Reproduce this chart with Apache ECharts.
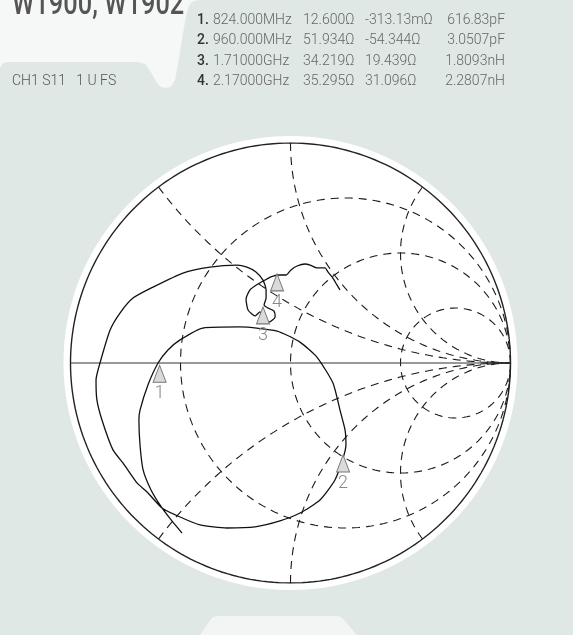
<!DOCTYPE html>
<html>
<head>
<meta charset="utf-8">
<script src="https://cdn.jsdelivr.net/npm/echarts@6/dist/echarts.min.js"></script>
<style>
html, body { margin: 0; padding: 0; background: #dfe8e4; }
#chart { width: 573px; height: 635px; }
</style>
</head>
<body>
<div id="chart"></div>
<script>
// S11 trace as reflection coefficient (re, im), in sweep order
var traceRe = [-0.493, -0.539, -0.584, -0.634, -0.670, -0.684, -0.689, -0.684, -0.648, -0.602,
  -0.557, -0.502, -0.398, -0.230, -0.061, 0.043, 0.120, 0.193, 0.225, 0.248,
  0.252, 0.239, 0.202, 0.134, 0.043, -0.048, -0.161, -0.289, -0.411, -0.502,
  -0.584, -0.652, -0.698, -0.761, -0.807, -0.857, -0.880, -0.884, -0.866, -0.820,
  -0.775, -0.716, -0.625, -0.489, -0.366, -0.243, -0.198, -0.157, -0.125, -0.111,
  -0.111, -0.120, -0.102, -0.075, -0.070, -0.098, -0.125, -0.139, -0.161, -0.193,
  -0.202, -0.184, -0.148, -0.116, -0.089, -0.057, -0.020, 0.002, 0.030, 0.066,
  0.089, 0.120, 0.157, 0.170, 0.189, 0.211, 0.225];
var traceIm = [-0.773, -0.718, -0.659, -0.577, -0.486, -0.373, -0.259, -0.214, -0.100, 0.000,
  0.059, 0.105, 0.159, 0.164, 0.145, 0.095, 0.027, -0.091, -0.214, -0.305,
  -0.373, -0.432, -0.532, -0.623, -0.682, -0.718, -0.745, -0.750, -0.736, -0.700,
  -0.659, -0.586, -0.545, -0.455, -0.395, -0.259, -0.168, -0.077, 0.000, 0.150,
  0.227, 0.295, 0.345, 0.409, 0.436, 0.445, 0.436, 0.414, 0.377, 0.332,
  0.295, 0.264, 0.250, 0.236, 0.209, 0.186, 0.205, 0.232, 0.214, 0.241,
  0.291, 0.332, 0.359, 0.377, 0.391, 0.400, 0.400, 0.423, 0.441, 0.450,
  0.445, 0.432, 0.432, 0.414, 0.391, 0.355, 0.332];

var markerNames = ['1', '2', '3', '4'];
var markerRe = [-0.595, 0.239, -0.125, -0.061];
var markerIm = [-0.010, -0.418, 0.255, 0.405];
var markerFreq = ['824.000MHz', '960.000MHz', '1.71000GHz', '2.17000GHz'];
var markerR = ['12.600Ω', '51.934Ω', '34.219Ω', '35.295Ω'];
var markerX = ['-313.13mΩ', '-54.344Ω', '19.439Ω', '31.096Ω'];
var markerLC = ['616.83pF', '3.0507pF', '1.8093nH', '2.2807nH'];

var resistanceCircles = [1 / 3, 1, 3];
var reactanceArcs = [0.5, 1, 2, -0.5, -1, -2];

// z = r + jx  ->  gamma = (z - 1) / (z + 1)
function gamma(r, x) {
  var d = (r + 1) * (r + 1) + x * x;
  return [(r * r - 1 + x * x) / d, 2 * x / d];
}
function rCircle(r) {
  var c = r / (1 + r), rad = 1 / (1 + r), pts = [];
  for (var i = 0; i <= 240; i++) {
    var a = i / 240 * 2 * Math.PI;
    pts.push([c + rad * Math.cos(a), rad * Math.sin(a)]);
  }
  return pts;
}
function xArc(x) {
  var pts = [];
  for (var i = 0; i < 200; i++) {
    pts.push(gamma(Math.tan(i / 200 * Math.PI / 2), x));
  }
  pts.push([1, 0]);
  return pts;
}

var dashed = { color: '#1a1a1a', width: 1.1, type: [8, 6] };
var series = [];
resistanceCircles.forEach(function (r) {
  series.push({ type: 'line', data: rCircle(r), showSymbol: false, silent: true, lineStyle: dashed });
});
reactanceArcs.forEach(function (x) {
  series.push({ type: 'line', data: xArc(x), showSymbol: false, silent: true, lineStyle: dashed });
});
series.push({ type: 'line', data: rCircle(0), showSymbol: false, silent: true,
  lineStyle: { color: '#222', width: 1.4 } });
series.push({ type: 'line', data: [[-1, 0], [1, 0]], showSymbol: false, silent: true,
  lineStyle: { color: '#333', width: 1 } });
series.push({
  type: 'line', showSymbol: false, silent: true, smooth: 0.2,
  data: traceRe.map(function (v, i) { return [v, traceIm[i]]; }),
  lineStyle: { color: '#111', width: 1.3 }, z: 4
});
series.push({
  type: 'scatter', z: 5, symbol: 'triangle', symbolSize: [13, 17], symbolOffset: [0, '50%'],
  data: markerRe.map(function (v, i) { return { name: markerNames[i], value: [v, markerIm[i]] }; }),
  itemStyle: { color: '#dadada', borderColor: '#777', borderWidth: 1, opacity: 1 },
  label: { show: true, position: 'bottom', distance: 2, formatter: '{b}',
    fontFamily: 'Roboto', fontWeight: 300, fontSize: 18, color: '#888' }
});

var chart = echarts.init(document.getElementById('chart'));
chart.setOption({
  backgroundColor: '#dfe8e4',
  animation: false,
  grid: { left: 70.5, top: 143, width: 440, height: 440 },
  xAxis: { type: 'value', min: -1, max: 1, show: false },
  yAxis: { type: 'value', min: -1, max: 1, show: false },
  series: series
});

var c = chart.convertToPixel({ gridIndex: 0 }, [0, 0]);
var e = chart.convertToPixel({ gridIndex: 0 }, [1, 0]);
var rows = [];
markerNames.forEach(function (n, i) {
  var y = 20.5 + i * 20.3;
  var f = { fontFamily: 'Roboto', fontSize: 14, fontWeight: 300, fill: '#666', verticalAlign: 'middle' };
  var cell = function (x, style) {
    return { type: 'text', x: x, y: y, style: Object.assign({}, f, style) };
  };
  rows.push(cell(197, { text: n + '.', fontWeight: 500, fill: '#333' }));
  rows.push(cell(213, { text: markerFreq[i] }));
  rows.push(cell(303, { text: markerR[i] }));
  rows.push(cell(365, { text: markerX[i] }));
  rows.push(cell(505, { text: markerLC[i], align: 'right' }));
});

chart.setOption({
  graphic: [
    { type: 'polygon', z: -10, shape: { points: [[0, 0], [200, 0], [194, 1], [190, 4], [187, 12], [185, 22], [181, 45],
      [178, 65], [175, 80], [171, 87], [166, 88], [161, 87], [157, 83], [153, 76], [149, 69], [145, 64], [138, 62],
      [8, 62], [3, 63], [0, 68]] }, style: { fill: '#f6f7f7' } },
    { type: 'polygon', z: -10, shape: { points: [[200, 635], [210, 620], [213, 617], [218, 616], [336, 616],
      [341, 617], [344, 620], [357, 635]] }, style: { fill: '#f2f5f4' } },
    { type: 'circle', z: -10, shape: { cx: c[0], cy: c[1], r: (e[0] - c[0]) * 1.032 }, style: { fill: '#fff' } },
    { type: 'text', x: 12, y: 22, scaleX: 0.77, style: { text: 'W1900, W1902', fontFamily: 'Roboto',
      fontSize: 33, fontWeight: 500, fill: '#555', verticalAlign: 'bottom' } },
    { type: 'text', x: 12, y: 81.5, style: { text: 'CH1 S11   1 U FS', fontFamily: 'Roboto', fontSize: 14,
      fontWeight: 300, fill: '#555', verticalAlign: 'middle' } }
  ].concat(rows)
});
</script>
</body>
</html>
